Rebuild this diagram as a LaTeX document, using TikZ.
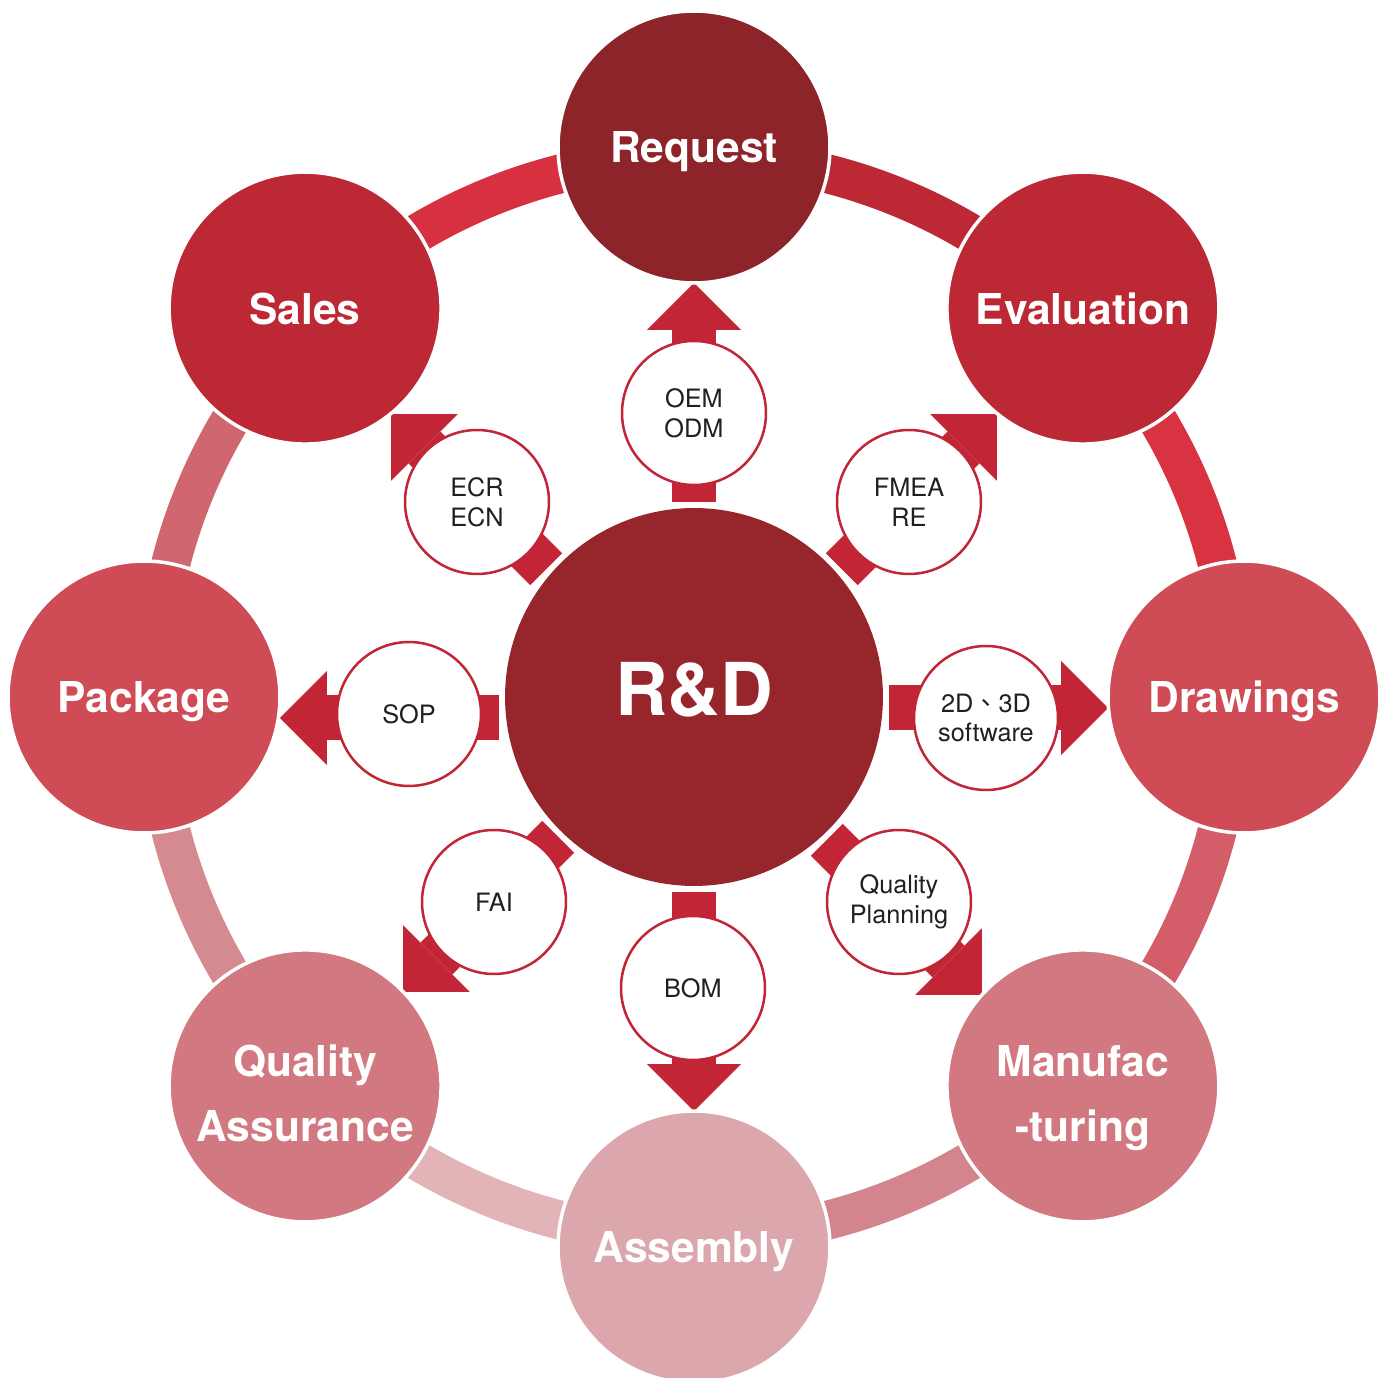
\documentclass[tikz,border=0pt]{standalone}
\usepackage{fontspec}
\setmainfont{TeX Gyre Heros}
\newfontfamily\cjk{Noto Sans CJK TC}
\usetikzlibrary{arrows.meta}

\definecolor{rdred}{HTML}{96262C}
\definecolor{reqred}{HTML}{8C2429}
\definecolor{evared}{HTML}{BC2834}
\definecolor{drwred}{HTML}{CF4B56}
\definecolor{manred}{HTML}{D17880}
\definecolor{asmred}{HTML}{DBA7AC}
\definecolor{arrowred}{HTML}{C22535}
\definecolor{tagtext}{HTML}{231F20}
\definecolor{ringa}{HTML}{D73041}
\definecolor{ringb}{HTML}{BC2834}
\definecolor{ringc}{HTML}{D93341}
\definecolor{ringd}{HTML}{D35D68}
\definecolor{ringe}{HTML}{D4848C}
\definecolor{ringf}{HTML}{E2B3B7}
\definecolor{ringg}{HTML}{D58A90}
\definecolor{ringh}{HTML}{D06670}

\pgfdeclarelayer{back}
\pgfsetlayers{back,main}

\tikzset{
  hub/.style={circle, fill=rdred, minimum size=7.56cm, inner sep=0pt, outer sep=0pt,
    text=white, text height=0.76cm, text depth=0pt, font=\bfseries\fontsize{41.5}{41.5}\selectfont},
  stage/.style={circle, draw=white, line width=0.07cm, minimum size=5.44cm, inner sep=0pt,
    outer sep=0pt, text=white, align=center, text height=0.64cm, text depth=0pt,
    font=\bfseries\fontsize{24.2}{37.5}\selectfont},
  twoline/.style={text height=2.24cm, text depth=0pt},
  tag/.style={circle, draw=arrowred, fill=white, line width=0.05cm, minimum size=2.88cm,
    inner sep=0pt, align=center, text=tagtext, font=\fontsize{14.4}{17}\selectfont},
  flow/.style={draw=arrowred, line width=0.9cm, shorten <=0.12cm,
    -{Triangle[width=1.88cm, length=0.94cm, line width=0pt]}},
  ring/.style={line width=0.78cm}
}

\begin{document}
\begin{tikzpicture}[x=0.02cm, y=0.02cm]
\useasboundingbox (-694,-681) rectangle (692,697);

% centre and stages
\node[hub] (rd) at (0,0) {R\&D};
\node[stage, fill=reqred] (req) at (90:550) {Request};
\node[stage, fill=evared] (eva) at (45:550) {Evaluation};
\node[stage, fill=drwred] (drw) at (0:550) {Drawings};
\node[stage, twoline, fill=manred] (man) at (-45:550) {Manufac\\-turing};
\node[stage, fill=asmred] (asm) at (-90:550) {Assembly};
\node[stage, twoline, fill=manred] (qa) at (-135:550) {Quality\\Assurance};
\node[stage, fill=drwred] (pkg) at (180:550) {Package};
\node[stage, fill=evared] (sal) at (135:550) {Sales};

% tags on the arrows
\node[tag] (oem) at (0,284) {OEM\\ODM};
\node[tag] (fmea) at (215,195) {FMEA\\RE};
\node[tag] (soft) at (292,-21) {2D{\cjk 、}3D\\software};
\node[tag] (qp) at (205,-205) {Quality\\Planning};
\node[tag] (bom) at (-1,-291) {BOM};
\node[tag] (fai) at (-200,-205) {FAI};
\node[tag] (sop) at (-285,-17) {SOP};
\node[tag] (ecr) at (-217,195) {ECR\\ECN};

\begin{pgfonlayer}{back}
\fill[white] (-694,-681) rectangle (692,697);
% outer ring
\foreach \a/\c in {135/ringa, 90/ringb, 45/ringc, 0/ringd, -45/ringe, -90/ringf, -135/ringg, 180/ringh}
  \draw[ring, draw=\c] (rd.center) ++(\a:540) arc[start angle=\a, delta angle=-45, radius=540];
% arrows
\foreach \t/\dx/\dy in {req/0/0, eva/10/-10, drw/0/-11, man/-5/-5, asm/0/0, qa/2/-2, pkg/0/-21, sal/-10/-10}{
  \begin{scope}[transform canvas={shift={(\dx,\dy)}}]
    \draw[flow] (rd) -- (\t);
  \end{scope}
}
\end{pgfonlayer}
\end{tikzpicture}
\end{document}
